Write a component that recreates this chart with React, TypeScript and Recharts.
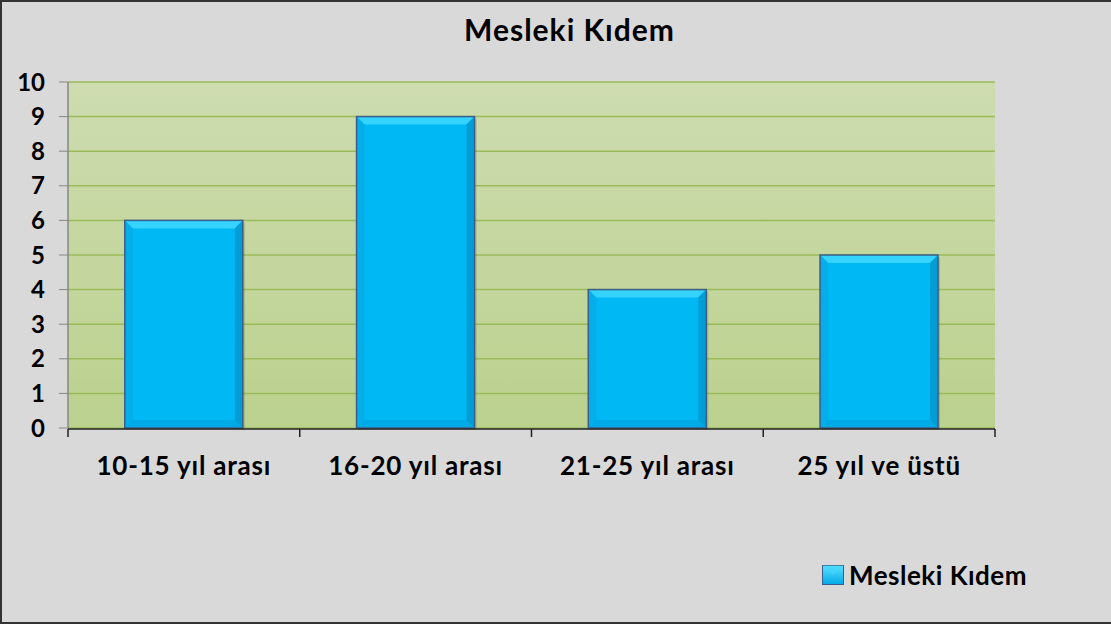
import { BarChart, Bar, XAxis, YAxis, CartesianGrid } from "recharts";

const categories = ["10-15 yıl arası", "16-20 yıl arası", "21-25 yıl arası", "25 yıl ve üstü"];
const kidemValues = [6, 9, 4, 5];
const yTicks = [0, 1, 2, 3, 4, 5, 6, 7, 8, 9, 10];
const boundaryTicks = [0, 1, 2, 3, 4];
const seriesName = "Mesleki Kıdem";

const data = categories.map((name, i) => ({ name, pos: i + 0.5, value: kidemValues[i] }));

const FONT = "Lato, 'Open Sans', sans-serif";

function BevelBar(props: any) {
  const { x, y, width, height } = props;
  if (!height || height <= 0) return null;
  const b = Math.min(8, height / 3, width / 3);
  const x2 = x + width;
  const y2 = y + height;
  return (
    <g>
      <rect x={x + 2} y={y + 2} width={width} height={height} fill="rgba(0,0,0,0.15)" />
      <rect x={x} y={y} width={width} height={height} fill="#00b9f4" />
      <polygon points={`${x},${y} ${x2},${y} ${x2 - b},${y + b} ${x + b},${y + b}`} fill="#35d3ff" />
      <polygon points={`${x},${y2} ${x2},${y2} ${x2 - b},${y2 - b} ${x + b},${y2 - b}`} fill="#00aae4" />
      <polygon points={`${x},${y} ${x + b},${y + b} ${x + b},${y2 - b} ${x},${y2}`} fill="#05aee8" />
      <polygon points={`${x2},${y} ${x2 - b},${y + b} ${x2 - b},${y2 - b} ${x2},${y2}`} fill="#039dd5" />
      <rect x={x} y={y} width={width} height={height} fill="none" stroke="#3a5f8c" strokeWidth={1.5} />
    </g>
  );
}

function LegendBox() {
  return (
    <div style={{ display: "flex", alignItems: "center", fontFamily: FONT, fontWeight: 700, fontSize: 26, letterSpacing: 0.5, color: "#000" }}>
      <svg width={22} height={20} style={{ marginRight: 5 }}>
        <defs>
          <linearGradient id="legGrad" x1="0" y1="0" x2="0" y2="1">
            <stop offset="0%" stopColor="#5fe0ff" />
            <stop offset="100%" stopColor="#00a8e6" />
          </linearGradient>
        </defs>
        <rect x={0.5} y={0.5} width={21} height={19} fill="url(#legGrad)" stroke="#3a5f8c" />
        <polygon points="0.5,0.5 21.5,0.5 11,10" fill="#3fd6ff" opacity={0.6} />
      </svg>
      <span>{seriesName}</span>
    </div>
  );
}

const emptyTick = () => <g />;

export default function App() {
  return (
    <div
      style={{
        position: "absolute",
        left: 0,
        top: 0,
        width: 1111,
        height: 624,
        background: "#d9d9d9",
        boxSizing: "border-box",
        borderLeft: "2px solid #333",
        borderTop: "2px solid #333",
        borderBottom: "2px solid #333",
        overflow: "hidden",
      }}
    >
      <div
        style={{
          position: "absolute",
          left: 0,
          top: 9,
          width: 1135,
          textAlign: "center",
          fontFamily: FONT,
          fontWeight: 700,
          fontSize: 30,
          letterSpacing: 1,
          color: "#000",
        }}
      >
        {seriesName}
      </div>
      <div style={{ position: "absolute", left: -2, top: -2 }}>
        <BarChart
          width={1111}
          height={624}
          data={data}
          margin={{ top: 82, right: 116, bottom: 194, left: 0 }}
          barCategoryGap="24.5%"
        >
          <defs>
            <linearGradient id="plotGrad" x1="0" y1="0" x2="0" y2="1">
              <stop offset="0%" stopColor="#cedcb0" />
              <stop offset="100%" stopColor="#bbd18e" />
            </linearGradient>
          </defs>
          <CartesianGrid
            xAxisId="cat"
            yAxisId="left"
            vertical={false}
            horizontal
            fill="url(#plotGrad)"
            fillOpacity={1}
            stroke="#9bbb59"
            strokeWidth={1.5}
          />
          <XAxis
            xAxisId="edge"
            type="number"
            dataKey="pos"
            domain={[0, 4]}
            ticks={boundaryTicks}
            interval={0}
            tick={emptyTick}
            tickSize={8}
            axisLine={{ stroke: "#222", strokeWidth: 1.5 }}
            tickLine={{ stroke: "#222", strokeWidth: 1.5 }}
            height={1}
          />
          <XAxis
            dataKey="name"
            xAxisId="cat"
            axisLine={false}
            tickLine={false}
            tickMargin={23}
            height={1}
            tick={{ fill: "#000", fontFamily: FONT, fontWeight: 700, fontSize: 26, letterSpacing: 0.8 }}
            interval={0}
          />
          <YAxis
            yAxisId="left"
            width={68}
            domain={[0, 10]}
            ticks={yTicks}
            interval={0}
            tickSize={9}
            tickMargin={14}
            axisLine={{ stroke: "#868686", strokeWidth: 1.5 }}
            tickLine={{ stroke: "#868686" }}
            tick={{ fill: "#000", fontFamily: FONT, fontWeight: 700, fontSize: 24 }}
          />
          <YAxis
            yAxisId="right"
            orientation="right"
            width={0}
            domain={[0, 10]}
            tick={false}
            tickLine={false}
            axisLine={{ stroke: "#9bbb59", strokeWidth: 1.5 }}
          />
          <Bar
            dataKey="value"
            name={seriesName}
            xAxisId="cat"
            yAxisId="left"
            shape={BevelBar}
            isAnimationActive={false}
          />
        </BarChart>
      </div>
      <div style={{ position: "absolute", left: 820, top: 557 }}>
        <LegendBox />
      </div>
    </div>
  );
}
